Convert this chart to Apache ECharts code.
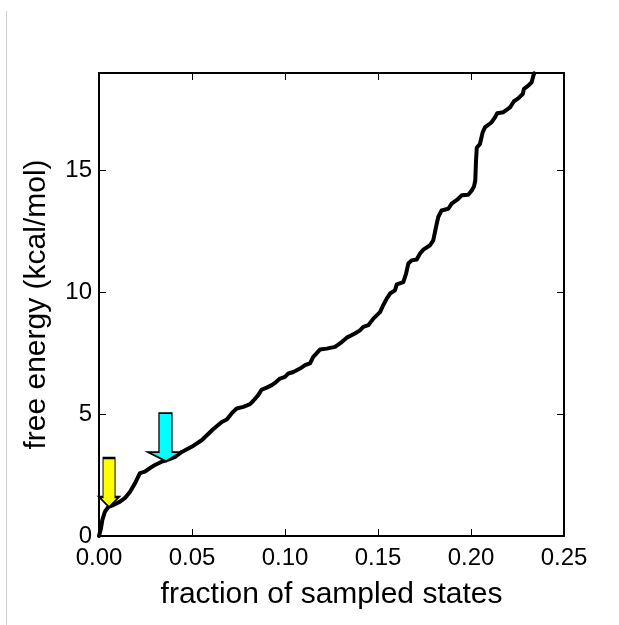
<!DOCTYPE html>
<html>
<head>
<meta charset="utf-8">
<script src="https://cdn.jsdelivr.net/npm/echarts@6/dist/echarts.min.js"></script>
<style>
html,body{margin:0;padding:0;background:#fff;}
#chart{width:619px;height:625px;}
</style>
</head>
<body>
<div id="chart"></div>
<script>
// fraction of sampled states (x) and free energy in kcal/mol (y)
const fraction = [0,0.0005,0.0011,0.0018,0.0032,0.0050,0.0077,0.0113,0.0140,0.0167,0.0194,0.0220,0.0247,0.0274,0.0301,0.0337,0.0364,0.0409,0.0445,0.0498,0.0552,0.0615,0.0660,0.0687,0.0713,0.0740,0.0776,0.0812,0.0830,0.0856,0.0875,0.0902,0.0929,0.0946,0.0973,0.1000,0.1018,0.1045,0.1081,0.1108,0.1134,0.1152,0.1188,0.1224,0.1269,0.1305,0.1332,0.1376,0.1403,0.1421,0.1448,0.1475,0.1511,0.1528,0.1547,0.1565,0.1591,0.1601,0.1636,0.1651,0.1663,0.1681,0.1708,0.1726,0.1744,0.1780,0.1797,0.1812,0.1824,0.1842,0.1878,0.1896,0.1926,0.1950,0.1985,0.2004,0.2016,0.2023,0.2027,0.2031,0.2048,0.2063,0.2075,0.2111,0.2129,0.2141,0.2174,0.2210,0.2231,0.2254,0.2278,0.2285,0.2308,0.2326,0.2335,0.2340];
const freeEnergy = [0,0.05,0.33,0.66,1.00,1.19,1.27,1.41,1.56,1.82,2.17,2.58,2.64,2.79,2.91,3.05,3.11,3.25,3.45,3.66,3.93,4.39,4.68,4.78,5.03,5.23,5.30,5.41,5.55,5.78,6.01,6.09,6.19,6.28,6.46,6.53,6.67,6.73,6.87,7.01,7.08,7.35,7.65,7.69,7.76,7.96,8.14,8.31,8.44,8.58,8.65,8.92,9.19,9.47,9.74,9.95,10.08,10.33,10.42,10.77,11.18,11.31,11.35,11.59,11.75,11.93,12.13,12.68,13.09,13.36,13.43,13.64,13.80,13.98,14.00,14.18,14.34,14.59,15.41,15.93,16.09,16.57,16.77,16.98,17.18,17.35,17.39,17.59,17.84,17.96,18.14,18.35,18.48,18.62,18.89,18.99];
// arrow annotations: [x, y] of the arrow tip
const arrowYellow = [0.0054, 1.19];
const arrowCyan = [0.0360, 3.07];

const xTicks = {min: 0, max: 0.25, interval: 0.05};
const yTicks = {min: 0, max: 19, interval: 5};

const chart = echarts.init(document.getElementById('chart'), null, {renderer: 'canvas'});
const FONT = '"Liberation Sans", Arial, sans-serif';
const lineData = fraction.map((x, i) => [x, freeEnergy[i]]);

const yellowPath = 'path://M4,0 L16,0 L16,39 L20,39 L10,49 L0,39 L4,39 Z';
const cyanPath = 'path://M11,0 L24,0 L24,39 L33,39 L18,48 L0,39 L11,39 Z';

const frameLine = {show: true, onZero: false, lineStyle: {color: '#000', width: 2}};
const inTick = {show: true, inside: true, length: 7, lineStyle: {color: '#000', width: 1}};

chart.setOption({
  animation: false,
  backgroundColor: '#fff',
  graphic: [{
    type: 'line', shape: {x1: 6.5, y1: 11, x2: 6.5, y2: 625},
    style: {stroke: '#cfcfcf', lineWidth: 1}, silent: true
  }],
  grid: {left: 99, top: 73, right: 55, bottom: 89, containLabel: false},
  xAxis: [{
    type: 'value', min: xTicks.min, max: xTicks.max, interval: xTicks.interval,
    position: 'bottom',
    axisLine: frameLine, axisTick: inTick, splitLine: {show: false},
    axisLabel: {color: '#000', fontSize: 24, fontFamily: FONT, margin: 10,
      formatter: v => v.toFixed(2)},
    name: 'fraction of sampled states', nameLocation: 'middle', nameGap: 44,
    nameTextStyle: {color: '#000', fontSize: 30, fontFamily: FONT}
  }, {
    type: 'value', min: xTicks.min, max: xTicks.max, interval: xTicks.interval,
    position: 'top',
    axisLine: frameLine, axisTick: inTick, splitLine: {show: false},
    axisLabel: {show: false}
  }],
  yAxis: [{
    type: 'value', min: yTicks.min, max: yTicks.max, interval: yTicks.interval,
    position: 'left',
    axisLine: frameLine, axisTick: inTick, splitLine: {show: false},
    axisLabel: {color: '#000', fontSize: 24, fontFamily: FONT, margin: 7, showMaxLabel: false},
    name: 'free energy (kcal/mol)', nameLocation: 'middle', nameGap: 47,
    nameTextStyle: {color: '#000', fontSize: 30, fontFamily: FONT}
  }, {
    type: 'value', min: yTicks.min, max: yTicks.max, interval: yTicks.interval,
    position: 'right',
    axisLine: frameLine, axisTick: inTick, splitLine: {show: false},
    axisLabel: {show: false}
  }],
  series: [{
    type: 'line', data: lineData, showSymbol: false, smooth: false,
    clip: true,
    lineStyle: {color: '#000', width: 4, join: 'round', cap: 'round'},
    markPoint: {
      silent: true,
      label: {show: false},
      data: [{
        coord: arrowYellow, symbol: yellowPath, symbolSize: [20, 49], symbolKeepAspect: false,
        symbolOffset: [0, '-50%'],
        itemStyle: {color: '#ffff00', borderColor: '#000', borderWidth: 1.5}
      }, {
        coord: arrowCyan, symbol: cyanPath, symbolSize: [33, 48], symbolKeepAspect: false,
        symbolOffset: [-1.5, '-50%'],
        itemStyle: {color: '#00ffff', borderColor: '#000', borderWidth: 1.5}
      }]
    }
  }]
});
</script>
</body>
</html>
